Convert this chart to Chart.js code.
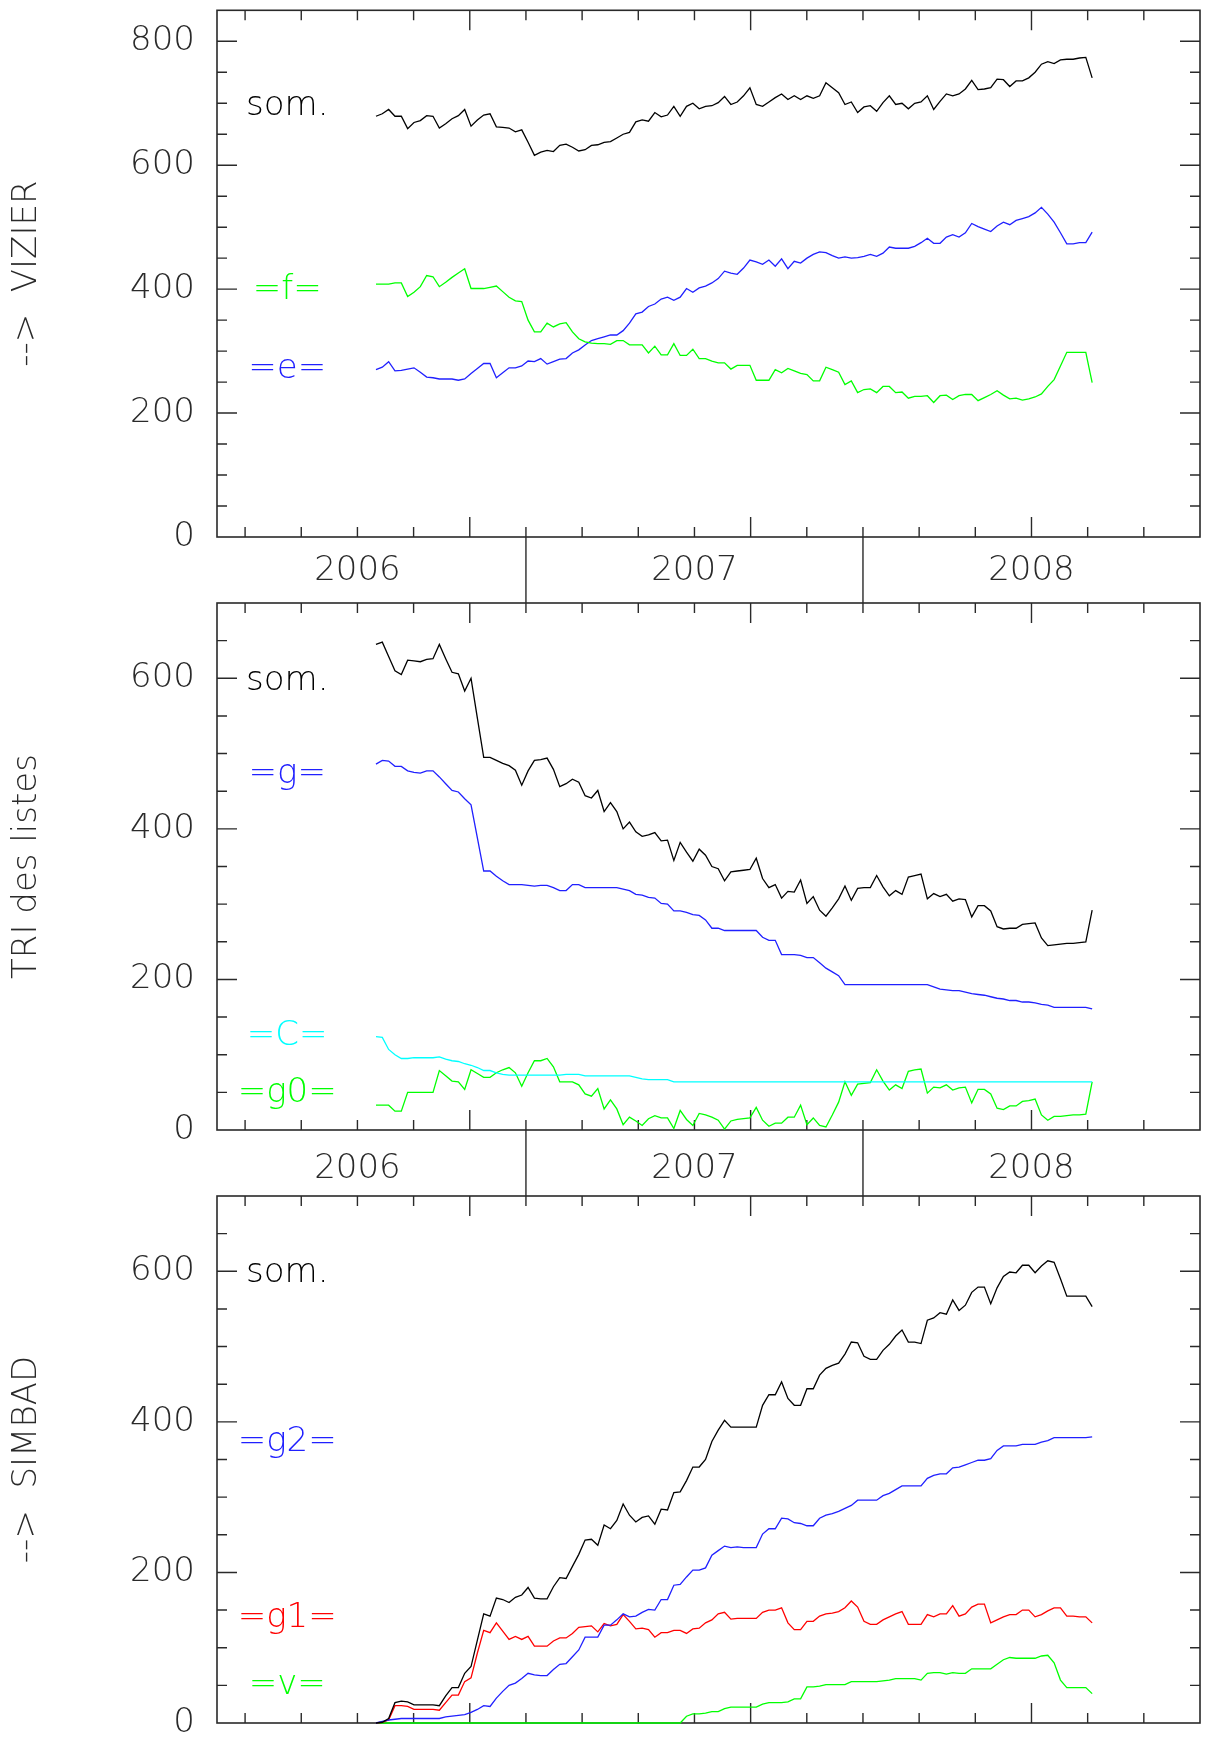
<!DOCTYPE html>
<html>
<head>
<meta charset="utf-8">
<title>VIZIER / TRI des listes / SIMBAD</title>
<script src="https://cdn.jsdelivr.net/npm/chart.js@4.4.0/dist/chart.umd.min.js"></script>
<style>
    html, body { margin: 0; padding: 0; background: #ffffff; }
    #page { position: relative; width: 1208px; height: 1742px; }
    #page canvas { position: absolute; left: 0; top: 0; }
</style>
</head>
<body>
<div id="page">
    <canvas id="vizier-chart" width="1208" height="1742"></canvas>
    <canvas id="tri-chart" width="1208" height="1742"></canvas>
    <canvas id="simbad-chart" width="1208" height="1742"></canvas>
</div>
<script>
// Weeks of the weekly counts (week numbers)
const weeks2006 = [29, 30, 31, 32, 33, 34, 35, 36, 37, 38, 39, 40, 41, 42, 43, 44, 45, 46, 47, 48, 49, 50, 51, 52];
const weeks2007 = [1, 2, 3, 4, 5, 6, 7, 8, 9, 10, 11, 12, 13, 14, 15, 16, 17, 18, 19, 20, 21, 22, 23, 24, 25, 26,
    27, 28, 29, 30, 31, 32, 33, 34, 35, 36, 37, 38, 39, 40, 41, 42, 43, 44, 45, 46, 47, 48, 49, 50, 51, 52];
const weeks2008 = [1, 2, 3, 4, 5, 6, 7, 8, 9, 10, 11, 12, 13, 14, 15, 16, 17, 18, 19, 20, 21, 22, 23, 24, 25, 26,
    27, 28, 29, 30, 31, 32, 33, 34, 35, 36, 37, 38];

// Time axis: months counted from January 2006
const yearLabels = ['2006', '2007', '2008'];
const yearCentres = [6, 18, 30];
const yearBreaks = [12, 24];

// --> VIZIER
const vizierSom = [679, 683, 690, 679, 679, 659, 669, 672, 680, 679,
    660, 667, 675, 680, 690, 663, 673, 681, 683, 662,
    661, 660, 654, 657, 637, 616, 621, 624, 622, 632,
    634, 629, 623, 625, 632, 633, 637, 638, 644, 650,
    653, 670, 673, 671, 685, 678, 681, 695, 679, 695,
    700, 691, 695, 696, 701, 711, 698, 702, 712, 725,
    698, 695, 702, 709, 715, 706, 712, 706, 712, 708,
    712, 733, 725, 717, 698, 702, 685, 694, 696, 687,
    701, 712, 698, 700, 691, 700, 702, 712, 690, 703,
    715, 712, 715, 723, 737, 722, 723, 725, 739, 738,
    727, 736, 736, 741, 750, 763, 767, 764, 770, 771,
    771, 773, 774, 741];
const vizierF = [408, 408, 408, 410, 410, 388, 395, 404, 422, 420,
    404, 411, 419, 426, 433, 401, 401, 401, 403, 405,
    396, 387, 381, 380, 350, 331, 331, 345, 339, 344,
    346, 331, 320, 315, 313, 312, 312, 311, 317, 317,
    310, 310, 310, 297, 308, 294, 294, 312, 293, 293,
    303, 288, 288, 284, 281, 281, 271, 277, 277, 277,
    253, 253, 253, 270, 265, 272, 268, 264, 262, 252,
    252, 274, 270, 266, 246, 252, 233, 238, 239, 233,
    243, 243, 233, 234, 224, 227, 227, 228, 217, 228,
    229, 222, 228, 230, 230, 220, 225, 230, 236, 229,
    223, 224, 221, 223, 226, 231, 243, 254, 276, 298,
    298, 298, 298, 249];
const vizierE = [270, 274, 283, 268, 269, 271, 273, 266, 258, 257,
    255, 255, 255, 253, 255, 264, 272, 280, 280, 257,
    265, 273, 273, 276, 284, 283, 288, 279, 283, 287,
    288, 297, 302, 310, 317, 320, 323, 326, 326, 333,
    345, 360, 363, 372, 376, 384, 387, 382, 387, 401,
    395, 402, 405, 410, 417, 429, 426, 424, 434, 447,
    444, 440, 447, 437, 449, 433, 445, 442, 450, 456,
    460, 459, 454, 450, 452, 450, 451, 453, 456, 453,
    458, 468, 466, 466, 466, 469, 475, 482, 474, 474,
    484, 488, 484, 491, 506, 501, 497, 493, 502, 508,
    504, 511, 514, 517, 523, 532, 521, 508, 491, 473,
    473, 475, 475, 492];

// TRI des listes
const triSom = [645, 648, 629, 610, 605, 624, 623, 622, 625, 626,
    645, 626, 608, 606, 583, 600, 547, 495, 495, 491,
    487, 484, 478, 458, 477, 491, 492, 494, 479, 456,
    460, 466, 462, 444, 441, 451, 423, 435, 423, 400,
    409, 396, 390, 392, 395, 384, 385, 358, 382, 369,
    357, 373, 365, 350, 347, 331, 343, 344, 345, 346,
    361, 334, 322, 326, 308, 317, 316, 332, 301, 310,
    292, 284, 295, 307, 324, 305, 321, 322, 322, 338,
    323, 311, 318, 313, 336, 338, 340, 307, 314, 310,
    313, 304, 307, 306, 283, 298, 298, 291, 270, 267,
    268, 268, 273, 274, 275, 255, 245, 246, 247, 248,
    248, 249, 250, 292];
const triG = [486, 491, 490, 483, 483, 477, 475, 474, 477, 477,
    469, 460, 451, 449, 440, 432, 388, 344, 344, 337,
    331, 326, 326, 326, 325, 324, 325, 325, 322, 318,
    318, 326, 326, 322, 322, 322, 322, 322, 322, 320,
    318, 313, 312, 309, 308, 301, 300, 291, 291, 289,
    286, 285, 279, 268, 268, 265, 265, 265, 265, 265,
    265, 256, 252, 252, 233, 233, 233, 232, 229, 229,
    222, 215, 210, 205, 193, 193, 193, 193, 193, 193,
    193, 193, 193, 193, 193, 193, 193, 193, 190, 187,
    186, 185, 185, 183, 181, 180, 179, 177, 175, 174,
    172, 172, 170, 170, 169, 167, 166, 163, 163, 163,
    163, 163, 163, 161];
const triC = [124, 123, 107, 100, 95, 95, 96, 96, 96, 96,
    97, 94, 92, 91, 88, 86, 83, 79, 79, 76,
    74, 73, 73, 73, 73, 73, 73, 73, 73, 73,
    74, 74, 74, 72, 72, 72, 72, 72, 72, 72,
    72, 70, 68, 67, 67, 67, 67, 64, 64, 64,
    64, 64, 64, 64, 64, 64, 64, 64, 64, 64,
    64, 64, 64, 64, 64, 64, 64, 64, 64, 64,
    64, 64, 64, 64, 64, 64, 64, 64, 64, 64,
    64, 64, 64, 64, 64, 64, 64, 64, 64, 64,
    64, 64, 64, 64, 64, 64, 64, 64, 64, 64,
    64, 64, 64, 64, 64, 64, 64, 64, 64, 64,
    64, 64, 64, 64];
const triG0 = [33, 33, 33, 25, 25, 50, 50, 50, 50, 50,
    79, 72, 65, 64, 54, 80, 75, 70, 70, 76,
    80, 83, 76, 58, 76, 92, 92, 95, 84, 64,
    64, 64, 60, 48, 45, 55, 28, 40, 28, 7,
    17, 12, 6, 15, 19, 16, 16, 2, 26, 14,
    6, 22, 20, 17, 13, 1, 12, 14, 15, 16,
    30, 13, 5, 9, 9, 17, 17, 33, 7, 16,
    6, 4, 20, 37, 64, 46, 61, 62, 63, 80,
    65, 53, 60, 55, 78, 80, 81, 49, 57, 56,
    60, 53, 56, 57, 36, 54, 54, 48, 29, 27,
    32, 32, 38, 39, 41, 20, 13, 18, 18, 19,
    20, 20, 21, 64];

// --> SIMBAD
const simbadSom = [0, 1, 6, 27, 29, 28, 24, 24, 24, 24,
    23, 36, 47, 47, 66, 75, 110, 145, 142, 166,
    164, 160, 167, 170, 180, 166, 165, 165, 181, 193,
    192, 208, 224, 243, 244, 236, 263, 258, 269, 291,
    276, 267, 273, 275, 264, 284, 283, 306, 307, 322,
    340, 340, 350, 374, 389, 402, 393, 393, 393, 393,
    393, 422, 436, 436, 453, 431, 422, 422, 444, 444,
    462, 471, 475, 478, 490, 506, 505, 487, 483, 483,
    495, 503, 514, 522, 506, 506, 504, 535, 538, 545,
    543, 562, 548, 555, 572, 579, 579, 557, 578, 593,
    599, 598, 608, 608, 598, 607, 614, 612, 590, 567,
    567, 567, 567, 553];
const simbadG2 = [0, 2, 4, 5, 6, 6, 6, 6, 6, 6,
    6, 8, 9, 10, 11, 14, 18, 23, 22, 33,
    42, 50, 53, 59, 66, 64, 63, 63, 71, 78,
    79, 88, 97, 114, 114, 114, 130, 130, 137, 145,
    141, 142, 147, 151, 150, 164, 164, 183, 184, 194,
    203, 203, 206, 223, 229, 235, 233, 234, 233, 233,
    233, 251, 258, 258, 272, 271, 266, 265, 262, 262,
    272, 276, 278, 281, 285, 289, 296, 296, 296, 296,
    302, 305, 310, 315, 315, 315, 315, 325, 329, 331,
    331, 339, 340, 343, 346, 349, 349, 351, 362, 368,
    368, 368, 370, 370, 370, 373, 375, 379, 379, 379,
    379, 379, 379, 380];
const simbadG1 = [0, 1, 4, 23, 23, 22, 18, 18, 18, 18,
    17, 27, 37, 37, 55, 60, 93, 123, 120, 133,
    122, 111, 115, 111, 115, 102, 102, 102, 109, 113,
    113, 119, 127, 128, 129, 121, 132, 129, 131, 144,
    135, 125, 126, 124, 114, 120, 120, 123, 123, 119,
    125, 126, 133, 137, 145, 147, 138, 139, 139, 139,
    139, 147, 150, 150, 153, 133, 124, 124, 135, 135,
    142, 145, 146, 148, 153, 162, 154, 135, 131, 131,
    137, 141, 145, 148, 131, 131, 131, 144, 141, 145,
    145, 156, 142, 145, 154, 158, 158, 133, 137, 141,
    144, 144, 150, 150, 141, 144, 149, 153, 153, 142,
    142, 141, 141, 133];
const simbadV = [0, 0, 0, 0, 0, 0, 0, 0, 0, 0,
    0, 0, 0, 0, 0, 0, 0, 0, 0, 0,
    0, 0, 0, 0, 0, 0, 0, 0, 0, 0,
    0, 0, 0, 0, 0, 0, 0, 0, 0, 0,
    0, 0, 0, 0, 0, 0, 0, 0, 0, 9,
    12, 12, 13, 15, 15, 19, 21, 21, 21, 21,
    21, 25, 27, 27, 27, 28, 32, 32, 48, 48,
    49, 51, 51, 51, 51, 55, 55, 55, 55, 55,
    56, 57, 59, 59, 59, 59, 57, 66, 67, 67,
    65, 67, 66, 66, 72, 72, 72, 72, 78, 84,
    87, 86, 86, 86, 86, 89, 90, 80, 57, 47,
    47, 47, 47, 39];

// Axis ranges and tick steps
const xMin = 1, xMax = 36;
const xMinorStep = 2, xMajorStep = 10;
const yMinorStep = 50, yMajorStep = 200;

// Month positions of the first and last weekly sample, as on the time axis
const firstSampleMonth = 6.66;
const lastSampleMonth = 32.16;

const axisColour = '#2a2a2a';
const textFont = '"DejaVu Sans", "Liberation Sans", sans-serif';

// Samples are evenly spaced between the first and last week
const allWeeks = [].concat(
    weeks2006.map(w => '2006-' + w),
    weeks2007.map(w => '2007-' + w),
    weeks2008.map(w => '2008-' + w)
);
const weekPositions = allWeeks.map((w, i) =>
    firstSampleMonth + i * (lastSampleMonth - firstSampleMonth) / (allWeeks.length - 1));

// Panels, top to bottom
const panels = [
    {
        canvasId: 'vizier-chart',
        title: '-->  VIZIER',
        top: 10.3, bottom: 537, yMax: 850,
        yearTextY: 571, nextTop: 603,
        series: [
            { values: vizierSom, colour: '#000000' },
            { values: vizierF, colour: '#00ff00' },
            { values: vizierE, colour: '#2020ff' }
        ],
        labels: [
            { text: 'som.', colour: '#000000', y: 681, baseline: 'alphabetic' },
            { text: '=f=', colour: '#00ff00', y: 399, baseline: 'middle' },
            { text: '=e=', colour: '#2020ff', y: 271, baseline: 'middle' }
        ]
    },
    {
        canvasId: 'tri-chart',
        title: 'TRI des listes',
        top: 603, bottom: 1130, yMax: 700,
        yearTextY: 1169, nextTop: 1196,
        series: [
            { values: triSom, colour: '#000000' },
            { values: triG, colour: '#2020ff' },
            { values: triC, colour: '#00ffff' },
            { values: triG0, colour: '#00ff00' }
        ],
        labels: [
            { text: 'som.', colour: '#000000', y: 584, baseline: 'alphabetic' },
            { text: '=g=', colour: '#2020ff', y: 473, baseline: 'middle' },
            { text: '=C=', colour: '#00ffff', y: 125, baseline: 'middle' },
            { text: '=g0=', colour: '#00ff00', y: 49, baseline: 'middle' }
        ]
    },
    {
        canvasId: 'simbad-chart',
        title: '-->  SIMBAD',
        top: 1196, bottom: 1723, yMax: 700,
        yearTextY: null, nextTop: null,
        series: [
            { values: simbadSom, colour: '#000000' },
            { values: simbadG2, colour: '#2020ff' },
            { values: simbadG1, colour: '#ff0000' },
            { values: simbadV, colour: '#00ff00' }
        ],
        labels: [
            { text: 'som.', colour: '#000000', y: 586, baseline: 'alphabetic' },
            { text: '=g2=', colour: '#2020ff', y: 373, baseline: 'middle' },
            { text: '=g1=', colour: '#ff0000', y: 139, baseline: 'middle' },
            { text: '=v=', colour: '#00ff00', y: 50, baseline: 'middle' }
        ]
    }
];

// Frame, inward ticks and texts in the old plotting-package style
const framePlugin = {
    id: 'pgFrame',
    beforeDatasetsDraw(chart, args, opts) {
        const panel = opts.panel;
        const ctx = chart.ctx;
        const area = chart.chartArea;
        const xs = chart.scales.x;
        const ys = chart.scales.y;

        ctx.save();
        ctx.strokeStyle = axisColour;
        ctx.lineWidth = 1.6;
        ctx.strokeRect(area.left, area.top, area.right - area.left, area.bottom - area.top);

        // ticks
        ctx.lineWidth = 1.4;
        ctx.beginPath();
        for (let m = xMin + 1; m < xMax; m += xMinorStep) {
            const x = xs.getPixelForValue(m);
            const len = m % xMajorStep === 0 ? 20 : 10;
            ctx.moveTo(x, area.top);
            ctx.lineTo(x, area.top + len);
            ctx.moveTo(x, area.bottom);
            ctx.lineTo(x, area.bottom - len);
        }
        for (let v = yMinorStep; v < panel.yMax; v += yMinorStep) {
            const y = ys.getPixelForValue(v);
            const len = v % yMajorStep === 0 ? 20 : 10;
            ctx.moveTo(area.left, y);
            ctx.lineTo(area.left + len, y);
            ctx.moveTo(area.right, y);
            ctx.lineTo(area.right - len, y);
        }
        // year separators down to the next panel
        if (panel.nextTop) {
            yearBreaks.forEach(m => {
                const x = xs.getPixelForValue(m);
                ctx.moveTo(x, area.bottom);
                ctx.lineTo(x, panel.nextTop);
            });
        }
        ctx.stroke();

        // y tick labels
        ctx.fillStyle = axisColour;
        ctx.font = '200 34px ' + textFont;
        ctx.textAlign = 'right';
        ctx.textBaseline = 'middle';
        for (let v = 0; v < panel.yMax; v += yMajorStep) {
            ctx.fillText(String(v), area.left - 22, ys.getPixelForValue(v));
        }

        // years under the panel
        if (panel.yearTextY) {
            ctx.textAlign = 'center';
            yearLabels.forEach((label, i) => {
                ctx.fillText(label, xs.getPixelForValue(yearCentres[i]), panel.yearTextY);
            });
        }

        // series names
        ctx.textAlign = 'center';
        panel.labels.forEach(l => {
            ctx.fillStyle = l.colour;
            ctx.textBaseline = l.baseline;
            ctx.fillText(l.text, xs.getPixelForValue(3.5), ys.getPixelForValue(l.y));
        });

        // rotated panel title
        ctx.fillStyle = axisColour;
        ctx.textBaseline = 'middle';
        ctx.translate(27, (area.top + area.bottom) / 2);
        ctx.rotate(-Math.PI / 2);
        ctx.fillText(panel.title, 0, 0);
        ctx.restore();
    }
};

function buildDataset(s) {
    return {
        data: s.values.map((v, i) => ({ x: weekPositions[i], y: v })),
        borderColor: s.colour,
        borderWidth: 1.3,
        pointRadius: 0,
        tension: 0,
        fill: false,
        clip: false
    };
}

function renderPanel(panel) {
    const canvas = document.getElementById(panel.canvasId);
    new Chart(canvas, {
        type: 'line',
        data: { datasets: panel.series.map(buildDataset) },
        options: {
            responsive: false,
            animation: false,
            events: [],
            layout: {
                padding: { left: 217, right: 8, top: panel.top, bottom: 1742 - panel.bottom }
            },
            scales: {
                x: { type: 'linear', min: xMin, max: xMax, display: false },
                y: { type: 'linear', min: 0, max: panel.yMax, display: false }
            },
            plugins: {
                legend: { display: false },
                tooltip: { enabled: false },
                pgFrame: { panel: panel }
            }
        },
        plugins: [framePlugin]
    });
}

document.addEventListener('DOMContentLoaded', function() {
    panels.forEach(renderPanel);
});
</script>
</body>
</html>
